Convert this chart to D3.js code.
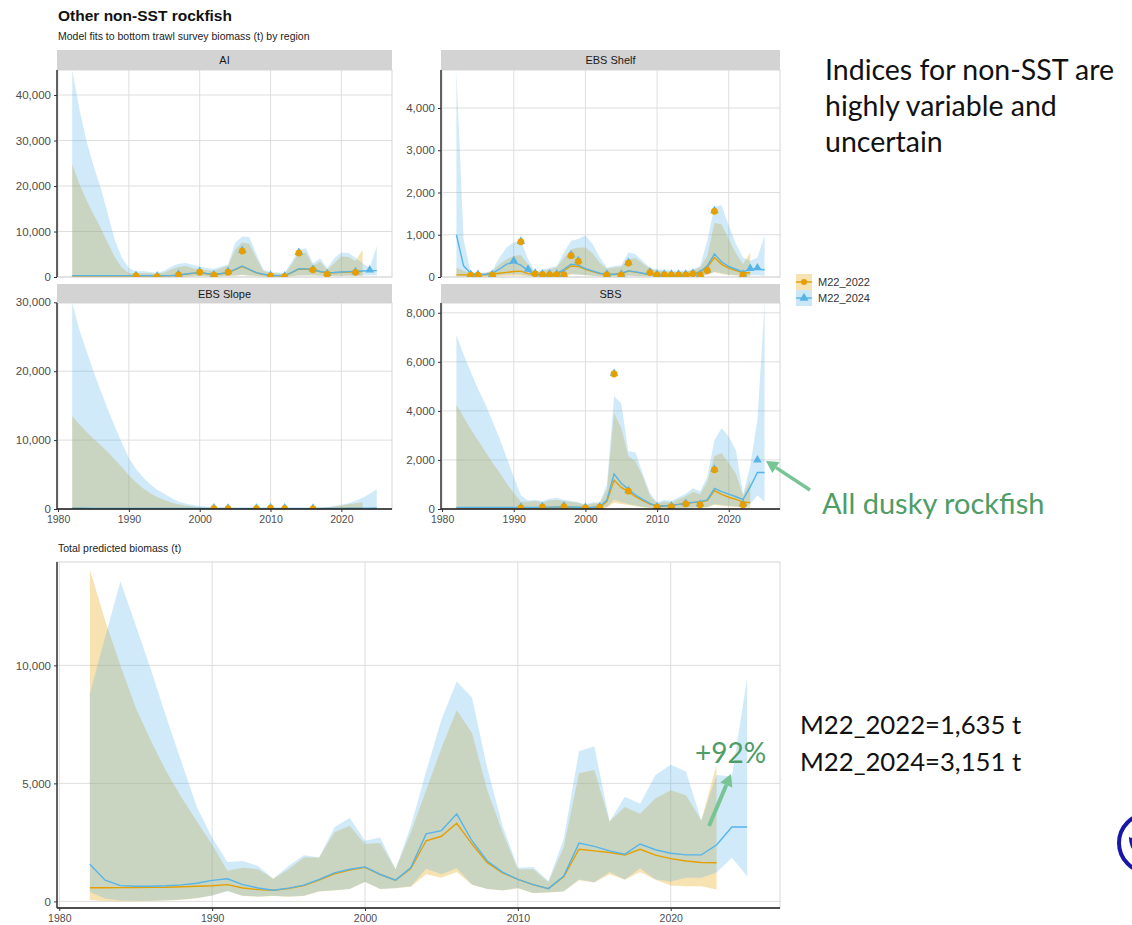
<!DOCTYPE html>
<html>
<head>
<meta charset="utf-8">
<script src="https://cdn.jsdelivr.net/npm/d3@7"></script>
<style>
  body { margin: 0; background: #fff; }
  svg { display: block; }
</style>
</head>
<body>
<svg id="chart" width="1132" height="925"></svg>
<script>
// ---------------- data ----------------
const years22 = d3.range(1982, 2024);   // M22_2022 model years
const years24 = d3.range(1982, 2026);   // M22_2024 model years
const xTickYears = [1980, 1990, 2000, 2010, 2020];

// AI
const aiEst22 = [280,280,280,280,280,280,280,280,280,290, 280,270,260,280,300,420,610,800,900,720, 570,720,900,1600,2300,1600,900,560,350,280, 270,950,1750,1700,1620,1150,900,950,1050,1100, 1150,1180];
const aiLo22  = [40,30,30,30,30,30,30,30,30,50, 50,50,40,50,60,80,130,180,220,180, 130,180,220,300,450,300,220,130,80,60, 50,180,320,320,350,270,220,220,220,250, 260,200];
const aiHi22  = [24800,20500,17000,13800,10900,7600,4400,2100,900,700, 900,800,700,1000,1700,2200,2500,1900,1700,1500, 1400,1900,2500,6000,7600,7300,4100,1300,900,800, 700,2800,5300,5400,2500,3400,1600,3100,4500,4400, 3500,6000];
const aiEst24 = [300,300,300,300,300,300,300,300,300,310, 300,290,280,300,310,450,650,850,960,760, 600,760,960,1700,2430,1700,960,600,370,300, 295,1000,1840,1780,1700,1200,960,1000,1100,1180, 1250,1320,1400,1400];
const aiLo24  = [60,50,40,40,40,40,40,40,40,60, 60,60,50,60,70,90,150,200,250,200, 150,200,250,350,500,350,250,150,90,70, 60,200,350,350,400,300,250,250,250,280, 300,330,400,350];
const aiHi24  = [45500,37000,30000,24500,19700,14000,8200,4300,2000,1200, 1300,1100,900,1400,2300,2900,3100,2700,2300,2000, 1800,2300,2700,7500,8900,8800,5000,1600,1100,1000, 900,3400,6000,6300,3000,4100,2000,4100,5400,5300, 4200,3000,2000,6800];
const aiObsYears = [1991,1994,1997,2000,2002,2004,2006,2010,2012,2014,2016,2018,2022];
const aiObsValues = [350,220,590,1200,520,1200,5820,370,220,5380,1700,740,1150];
const aiNewYears = [2024];
const aiNewValues = [1550];

// EBS Shelf
const shelfEst22 = [50,50,50,50,55,70,90,110,130,140, 80,60,55,55,70,150,260,250,180,130, 80,60,60,80,140,115,85,60,55,50, 50,50,55,80,115,230,460,300,210,150, 100,100];
const shelfLo22  = [10,10,10,10,10,15,20,25,30,30, 20,15,15,15,15,30,60,60,40,30, 20,15,15,20,30,25,20,15,15,15, 15,15,15,20,25,50,110,70,50,35, 25,10];
const shelfHi22  = [220,150,80,80,100,140,300,420,500,520, 300,100,150,180,230,450,650,700,700,560, 340,200,220,240,420,450,320,200,150,140, 120,120,130,160,230,500,1280,1250,900,560, 300,580];
const shelfEst24 = [1000,264,88,56,64,88,184,304,344,280, 144,64,56,56,72,184,304,280,200,144, 88,64,64,88,144,120,88,64,60,56, 56,56,60,88,120,264,544,360,248,184, 120,190,190,170];
const shelfLo24  = [30,20,15,15,15,20,40,60,70,60, 30,15,15,15,15,40,70,60,45,30, 20,15,15,20,30,25,20,15,15,15, 15,15,15,20,25,60,130,90,60,40, 30,40,40,30];
const shelfHi24  = [4900,900,100,90,100,150,460,700,820,860, 420,120,180,220,260,580,860,900,980,780, 460,220,260,280,580,540,380,220,180,170, 150,150,150,180,260,860,1660,1700,1220,780, 460,380,460,980];
const shelfObsYears = [1984,1985,1987,1991,1993,1994,1995,1996,1997,1998,1999,2003,2005,2006,2009,2010,2011,2012,2013,2014,2015,2016,2017,2018,2022];
const shelfObsValues = [60,60,60,848,88,72,72,72,64,520,384,64,64,344,120,64,64,64,64,64,90,64,168,1568,64];
const shelfNewYears = [1990,1992,2023,2024];
const shelfNewValues = [384,184,200,216];

// EBS Slope
const slopeEst22 = [70,65,60,58,55,52,50,50,50,50, 50,50,50,50,50,50,50,50,50,50, 50,50,50,50,50,50,50,50,50,50, 50,50,50,50,50,50,55,60,65,70, 75,80];
const slopeLo22  = [5,5,5,5,5,5,5,5,5,5, 5,5,5,5,5,5,5,5,5,5, 5,5,5,5,5,5,5,5,5,5, 5,5,5,5,5,5,5,5,5,5, 5,5];
const slopeHi22  = [13500,12300,11200,10200,9300,8300,7200,6100,4900,3900, 3000,2300,1750,1300,950,700,500,350,250,180, 130,100,80,70,60,50,50,50,50,50, 60,70,80,100,130,180,250,350,500,700, 850,1000];
const slopeEst24 = [120,110,100,95,90,85,80,80,80,80, 80,80,80,80,80,80,80,80,80,80, 80,80,80,80,80,80,80,80,80,80, 80,80,80,80,80,80,85,90,95,100, 110,120,130,140];
const slopeLo24  = [8,8,8,8,8,8,8,8,8,8, 8,8,8,8,8,8,8,8,8,8, 8,8,8,8,8,8,8,8,8,8, 8,8,8,8,8,8,8,8,8,8, 8,8,8,8];
const slopeHi24  = [29900,26000,23000,20000,17200,14500,12000,9600,7400,5800, 4600,3600,2800,2200,1600,1100,800,580,420,310, 230,170,130,100,80,70,60,60,60,60, 70,80,100,130,170,220,300,420,600,850, 1200,1650,2200,2850];
const slopeObsYears = [2002,2004,2008,2010,2012,2016];
const slopeObsValues = [150,120,120,200,150,100];
const slopeNewYears = [];
const slopeNewValues = [];

// SBS
const sbsEst22 = [50,50,50,50,50,50,50,50,50,55, 55,55,60,65,70,75,70,60,50,60, 80,300,1180,880,710,500,340,200,120,120, 150,190,230,260,290,340,750,600,480,390, 290,260];
const sbsLo22  = [10,10,10,10,10,10,10,10,10,10, 10,10,10,10,10,10,10,10,10,10, 15,60,250,200,160,110,70,40,25,25, 30,40,50,55,60,70,160,130,100,80, 60,50];
const sbsHi22  = [4250,3750,3250,2800,2350,1900,1500,1050,650,300, 300,330,280,350,380,320,300,250,150,220, 220,800,3900,3300,2150,1950,1330,550,220,300, 260,400,520,700,600,1100,2150,2280,1880,1450, 550,1200];
const sbsEst24 = [60,60,60,60,60,60,60,60,60,65, 65,65,70,75,80,85,80,70,60,70, 90,370,1430,1050,800,570,390,230,120,120, 150,190,245,270,300,370,840,710,610,500, 390,900,1490,1490];
const sbsLo24  = [15,15,15,15,15,15,15,15,15,15, 15,15,15,15,15,15,15,15,15,15, 20,90,380,280,200,140,90,50,30,30, 35,45,55,60,65,80,200,160,130,110, 90,200,550,300];
const sbsHi24  = [7100,6300,5600,4900,4300,3600,2900,2100,1300,550, 350,380,330,420,450,380,330,280,180,280, 270,1000,4600,4300,2350,2300,1450,650,270,380, 330,480,620,850,720,1300,2800,3300,2950,2400, 600,1750,3650,8400];
const sbsObsYears = [1991,1994,1997,2000,2002,2004,2006,2010,2012,2014,2016,2018,2022];
const sbsObsValues = [70,95,120,70,95,5530,750,95,120,230,200,1620,200];
const sbsNewYears = [2024];
const sbsNewValues = [2000];

// Total predicted biomass
const totEst22 = [580,580,585,590,595,600,620,640,660,710, 570,500,470,540,670,900,1170,1330,1440,1140, 900,1390,2570,2760,3310,2430,1640,1210,930,710, 540,1040,2210,2140,2070,1960,2210,1960,1810,1710, 1650,1635];
const totLo22  = [60,20,10,10,20,40,70,130,250,450, 230,200,230,200,230,420,460,520,820,520, 560,620,1150,1000,1250,700,520,460,560,350, 380,420,900,800,1150,920,1250,920,670,640, 640,500];
const totHi22  = [14050,11900,10000,8200,6800,5500,4400,3400,2400,1300, 1430,1360,960,1360,1860,1860,2930,3210,2430,2470, 1360,2930,4710,6500,8100,7140,4710,2930,1360,1360, 810,2290,5430,5570,3390,4000,3710,4360,4710,4500, 3430,5790];
const totEst24 = [1570,900,670,640,640,660,700,770,890,960, 710,570,470,560,690,930,1210,1360,1460,1140, 900,1430,2860,3000,3710,2570,1710,1240,930,710, 540,1070,2470,2330,2140,2000,2430,2190,2040,1970, 1970,2390,3151,3151];
const totLo24  = [400,120,40,30,30,50,80,140,250,430, 240,210,240,210,240,430,470,530,830,530, 570,640,1380,1150,1400,720,530,470,570,360, 390,430,930,810,1250,930,1400,930,840,1000, 1000,1220,1850,1060];
const totHi24  = [8800,11200,13560,11700,9800,7800,5900,4000,2700,1670, 1710,1500,960,1500,1960,1860,3140,3530,2570,2710, 1360,3210,5500,7710,9320,8640,5640,3210,1430,1460, 860,2640,6360,6570,3390,4430,4140,5360,5790,5500, 3430,5360,5290,9450];

// axis tick values
const aiTicks = [0, 10000, 20000, 30000, 40000];
const shelfTicks = [0, 1000, 2000, 3000, 4000];
const slopeTicks = [0, 10000, 20000, 30000];
const sbsTicks = [0, 2000, 4000, 6000, 8000];
const totTicks = [0, 5000, 10000];
const modelNames = ["M22_2022", "M22_2024"];

// ---------------- drawing ----------------
const COL22 = "#E69F00", COL24 = "#56B4E9";
const FONT = "'Liberation Sans', Arial, Helvetica, sans-serif";
const fmt = d3.format(",");
const svg = d3.select("#chart");
const xDomain = [1979.85, 2027.15];
let clipId = 0;

function rows(years, est, lo, hi) {
  return years.map((y, i) => ({ year: y, est: est[i], lo: lo[i], hi: hi[i] }));
}

function drawPanel(p) {
  const x = d3.scaleLinear().domain(xDomain).range([p.left, p.right]);
  const y = d3.scaleLinear().domain(p.yDomain).range([p.bottom, p.top]);
  const g = svg.append("g");

  // panel background, grid and border
  g.append("rect").attr("x", p.left).attr("y", p.top)
    .attr("width", p.right - p.left).attr("height", p.bottom - p.top).attr("fill", "#fff");
  g.append("g").selectAll("line").data(xTickYears).join("line")
    .attr("x1", d => x(d)).attr("x2", d => x(d)).attr("y1", p.top).attr("y2", p.bottom)
    .attr("stroke", "#dedede").attr("stroke-width", 1);
  g.append("g").selectAll("line").data(p.ticks).join("line")
    .attr("x1", p.left).attr("x2", p.right).attr("y1", d => y(d)).attr("y2", d => y(d))
    .attr("stroke", "#dedede").attr("stroke-width", 1);
  g.append("rect").attr("x", p.left).attr("y", p.top)
    .attr("width", p.right - p.left).attr("height", p.bottom - p.top)
    .attr("fill", "none").attr("stroke", "#d6d6d6").attr("stroke-width", 1);

  const id = "clip" + (clipId++);
  svg.append("clipPath").attr("id", id).append("rect")
    .attr("x", p.left).attr("y", p.top).attr("width", p.right - p.left).attr("height", p.bottom - p.top);
  const plot = g.append("g").attr("clip-path", `url(#${id})`);

  const r22 = rows(years22, p.e22, p.l22, p.h22);
  const r24 = rows(years24, p.e24, p.l24, p.h24);
  const area = d3.area().x(d => x(d.year)).y0(d => y(d.lo)).y1(d => y(d.hi));
  const line = d3.line().x(d => x(d.year)).y(d => y(d.est));

  plot.append("path").datum(r22).attr("d", area).attr("fill", COL22).attr("fill-opacity", 0.3);
  plot.append("path").datum(r24).attr("d", area).attr("fill", COL24).attr("fill-opacity", 0.28);
  plot.append("path").datum(r22).attr("d", line).attr("fill", "none").attr("stroke", COL22).attr("stroke-width", 1.4);
  plot.append("path").datum(r24).attr("d", line).attr("fill", "none").attr("stroke", COL24).attr("stroke-width", 1.4);

  if (p.obsYears) {
    const shared = p.obsYears.map((yr, i) => ({ year: yr, v: p.obsValues[i] }));
    const extra = p.newYears.map((yr, i) => ({ year: yr, v: p.newValues[i] }));
    const tri = d3.symbol(d3.symbolTriangle, 32);
    plot.append("g").selectAll("path").data(shared.concat(extra)).join("path")
      .attr("d", tri).attr("transform", d => `translate(${x(d.year)},${y(d.v)})`)
      .attr("fill", COL24);
    plot.append("g").selectAll("circle").data(shared).join("circle")
      .attr("cx", d => x(d.year)).attr("cy", d => y(d.v) + 0.6).attr("r", 3.4)
      .attr("fill", COL22);
  }

  // axes
  const yAxis = d3.axisLeft(y).tickValues(p.ticks).tickFormat(fmt).tickSize(3).tickPadding(3);
  const ya = g.append("g").attr("transform", `translate(${p.left},0)`).call(yAxis);
  ya.select(".domain").attr("stroke", "#1a1a1a").attr("stroke-width", 1.3)
    .attr("d", `M0,${p.top}V${p.bottom}`);
  ya.selectAll(".tick line").attr("stroke", "#333");
  ya.selectAll("text").attr("font-family", FONT).attr("font-size", 11.5).attr("fill", "#4d4d4d");

  if (p.showX) {
    const xAxis = d3.axisBottom(x).tickValues(xTickYears).tickFormat(d3.format("d")).tickSize(3).tickPadding(5);
    const xa = g.append("g").attr("transform", `translate(0,${p.bottom})`).call(xAxis);
    xa.select(".domain").attr("stroke", "#1a1a1a").attr("stroke-width", 1.3)
      .attr("d", `M${p.left},0H${p.right}`);
    xa.selectAll(".tick line").attr("stroke", "#333");
    xa.selectAll("text").attr("font-family", FONT).attr("font-size", 10.5).attr("fill", "#4d4d4d")
      .attr("dy", "0.6em");
  }

  if (p.label) {
    g.append("rect").attr("x", p.left).attr("y", p.stripTop)
      .attr("width", p.right - p.left).attr("height", p.top - p.stripTop).attr("fill", "#d3d3d3");
    g.append("text").attr("x", (p.left + p.right) / 2).attr("y", (p.stripTop + p.top) / 2 + 4)
      .attr("text-anchor", "middle").attr("font-family", FONT).attr("font-size", 11)
      .attr("fill", "#1a1a1a").text(p.label);
  }
}

const maxHi = (a, b) => [0, d3.max(a.concat(b))];

drawPanel({ label: "AI", left: 57, right: 392, top: 70, bottom: 277, stripTop: 50, showX: false,
  ticks: aiTicks, yDomain: maxHi(aiHi22, aiHi24),
  e22: aiEst22, l22: aiLo22, h22: aiHi22, e24: aiEst24, l24: aiLo24, h24: aiHi24,
  obsYears: aiObsYears, obsValues: aiObsValues, newYears: aiNewYears, newValues: aiNewValues });

drawPanel({ label: "EBS Shelf", left: 441, right: 780, top: 70, bottom: 277, stripTop: 50, showX: false,
  ticks: shelfTicks, yDomain: maxHi(shelfHi22, shelfHi24),
  e22: shelfEst22, l22: shelfLo22, h22: shelfHi22, e24: shelfEst24, l24: shelfLo24, h24: shelfHi24,
  obsYears: shelfObsYears, obsValues: shelfObsValues, newYears: shelfNewYears, newValues: shelfNewValues });

drawPanel({ label: "EBS Slope", left: 57, right: 392, top: 303, bottom: 509, stripTop: 284, showX: true,
  ticks: slopeTicks, yDomain: maxHi(slopeHi22, slopeHi24),
  e22: slopeEst22, l22: slopeLo22, h22: slopeHi22, e24: slopeEst24, l24: slopeLo24, h24: slopeHi24,
  obsYears: slopeObsYears, obsValues: slopeObsValues, newYears: slopeNewYears, newValues: slopeNewValues });

drawPanel({ label: "SBS", left: 441, right: 780, top: 303, bottom: 509, stripTop: 284, showX: true,
  ticks: sbsTicks, yDomain: maxHi(sbsHi22, sbsHi24),
  e22: sbsEst22, l22: sbsLo22, h22: sbsHi22, e24: sbsEst24, l24: sbsLo24, h24: sbsHi24,
  obsYears: sbsObsYears, obsValues: sbsObsValues, newYears: sbsNewYears, newValues: sbsNewValues });

drawPanel({ label: null, left: 57, right: 780, top: 562, bottom: 908, showX: true,
  ticks: totTicks, yDomain: [-280, 14380],
  e22: totEst22, l22: totLo22, h22: totHi22, e24: totEst24, l24: totLo24, h24: totHi24 });

// titles
svg.append("text").attr("x", 58).attr("y", 21).attr("font-family", FONT).attr("font-weight", "bold")
  .attr("font-size", 15.5).attr("fill", "#111").text("Other non-SST rockfish");
svg.append("text").attr("x", 58).attr("y", 40).attr("font-family", FONT)
  .attr("font-size", 10.5).attr("fill", "#222").text("Model fits to bottom trawl survey biomass (t) by region");
svg.append("text").attr("x", 58).attr("y", 552).attr("font-family", FONT)
  .attr("font-size", 10.5).attr("fill", "#222").text("Total predicted biomass (t)");

// legend
const legend = svg.append("g");
[COL22, COL24].forEach((c, i) => {
  const cy = 282 + i * 16;
  legend.append("rect").attr("x", 796).attr("y", cy - 8).attr("width", 16).attr("height", 16)
    .attr("fill", c).attr("fill-opacity", 0.3);
  legend.append("line").attr("x1", 796).attr("x2", 812).attr("y1", cy).attr("y2", cy)
    .attr("stroke", c).attr("stroke-width", 1.4);
  if (i === 0) legend.append("circle").attr("cx", 804).attr("cy", cy).attr("r", 3).attr("fill", c);
  else legend.append("path").attr("d", d3.symbol(d3.symbolTriangle, 36)).attr("transform", `translate(804,${cy})`).attr("fill", c);
  legend.append("text").attr("x", 818).attr("y", cy + 4).attr("font-family", FONT).attr("font-size", 11)
    .attr("fill", "#333").text(modelNames[i]);
});

// slide annotations
const SLIDE = "Lato, 'Open Sans', sans-serif";
["Indices for non-SST are", "highly variable and", "uncertain"].forEach((t, i) => {
  svg.append("text").attr("x", 825).attr("y", 80 + i * 36).attr("font-family", SLIDE)
    .attr("font-size", 28.5).attr("fill", "#111").text(t);
});
svg.append("text").attr("x", 822).attr("y", 514).attr("font-family", SLIDE)
  .attr("font-size", 29).attr("fill", "#4e9c66").text("All dusky rockfish");
svg.append("text").attr("x", 800).attr("y", 734).attr("font-family", SLIDE)
  .attr("font-size", 25.7).attr("fill", "#111").text("M22_2022=1,635 t");
svg.append("text").attr("x", 800).attr("y", 771).attr("font-family", SLIDE)
  .attr("font-size", 25.7).attr("fill", "#111").text("M22_2024=3,151 t");
svg.append("text").attr("x", 695).attr("y", 763).attr("font-family", SLIDE)
  .attr("font-size", 28).attr("fill", "#4e9c66").text("+92%");

function arrow(x1, y1, x2, y2, color, w, head) {
  const a = Math.atan2(y2 - y1, x2 - x1);
  const bx = x2 - head * Math.cos(a), by = y2 - head * Math.sin(a);
  svg.append("line").attr("x1", x1).attr("y1", y1).attr("x2", bx).attr("y2", by)
    .attr("stroke", color).attr("stroke-width", w);
  const s = head * 0.55;
  const pts = [[x2, y2],
    [bx + s * Math.sin(a), by - s * Math.cos(a)],
    [bx - s * Math.sin(a), by + s * Math.cos(a)]];
  svg.append("polygon").attr("points", pts.map(q => q.join(",")).join(" ")).attr("fill", color);
}
arrow(810, 490, 766, 461, "#78c494", 3.5, 12);
arrow(709, 826, 731, 774, "#78c494", 4, 12);

// partial logo at the right edge
const logo = svg.append("g");
logo.append("circle").attr("cx", 1148).attr("cy", 843).attr("r", 29).attr("fill", "#fff")
  .attr("stroke", "#1818a8").attr("stroke-width", 4);
logo.append("circle").attr("cx", 1150).attr("cy", 838).attr("r", 21).attr("fill", "#1818a8");
logo.append("ellipse").attr("cx", 1131).attr("cy", 831).attr("rx", 3).attr("ry", 7).attr("fill", "#fff");
</script>
</body>
</html>
